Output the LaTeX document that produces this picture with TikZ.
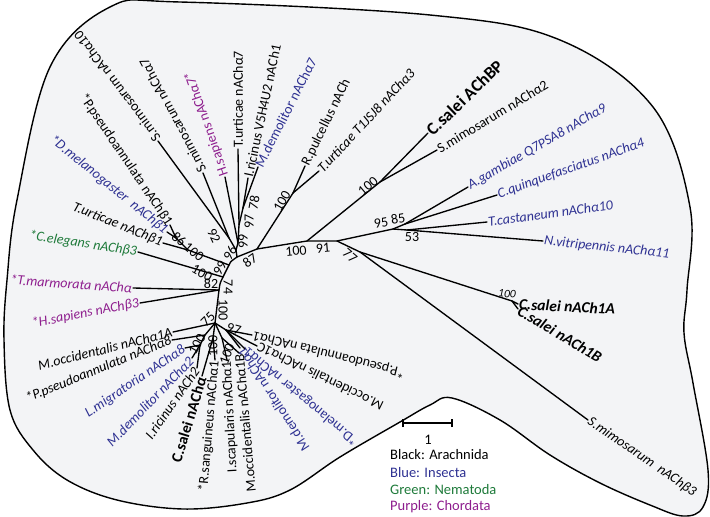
\documentclass[tikz,border=0pt]{standalone}
\usepackage{fontspec}
\setmainfont{Carlito}
\definecolor{insb}{HTML}{2E3192}
\definecolor{nemg}{HTML}{1E7A3A}
\definecolor{chrp}{HTML}{8E1E8E}
\definecolor{bgfill}{HTML}{F3F4F6}
\newcommand{\mkleaf}[6]{\coordinate (#1) at (#2); \node[#5,rotate=#3,anchor=#4] (#1t) at (#1) {#6};}
\newcommand{\bsv}[4]{\node[bs,rotate=#3] (#1) at (#2) {#4};}
\begin{document}
\begin{tikzpicture}[x=1pt,y=-1pt,
  up/.style={font=\fontsize{14}{16}\selectfont, inner sep=1pt},
  itl/.style={font=\fontsize{14}{16}\selectfont\itshape, inner sep=1pt},
  bup/.style={font=\fontsize{15.5}{17}\selectfont\bfseries, inner sep=1pt},
  bbig/.style={font=\fontsize{17.5}{19}\selectfont\bfseries, inner sep=1pt},
  bit/.style={font=\fontsize{15.5}{17}\selectfont\bfseries\itshape, inner sep=1pt},
  bs/.style={font=\fontsize{14}{15}\selectfont, inner sep=0pt},
  br/.style={line width=1.35pt, line cap=round},
  legend/.style={font=\fontsize{14.5}{16}\selectfont, anchor=west, inner sep=0pt}]
\useasboundingbox (0,0) rectangle (710,517);
% background blob
\draw[line width=1.4pt, fill=bgfill] plot[smooth cycle, tension=0.6] coordinates {
 (17,200) (50,67) (110,7) (180,2) (430,15) (560,40) (653,107) (690,207)
 (687,290) (684,333) (693,383) (708,470) (703,507) (683,516) (650,505)
 (600,483) (550,455) (500,420) (452,398) (430,405) (400,422) (340,457)
 (290,490) (247,503) (183,509) (117,500) (67,480) (33,450) (10,410)
 (4,340) (7,280)};
% internal nodes
\coordinate (n87) at (257,249);
\coordinate (nA) at (237,257);
\coordinate (nR) at (293,193);
\coordinate (nM) at (307,241);
\coordinate (nBP) at (380,182);
\coordinate (n91) at (337,241);
\coordinate (n95) at (393,229);
\coordinate (n85) at (405,224);
\coordinate (n53) at (407,230);
\coordinate (n77) at (360,252);
\coordinate (nC1) at (512,301);
\coordinate (n96) at (236,250);
\coordinate (n92) at (229,238);
\coordinate (n99) at (238,243);
\coordinate (n97) at (239,225);
\coordinate (n78) at (243,208);
\coordinate (nS1) at (229,265);
\coordinate (nS2) at (223,277);
\coordinate (n82) at (219,290);
\coordinate (n75) at (215,323);
\coordinate (n100L) at (188,250);
\coordinate (n86) at (176,238);
\coordinate (nL) at (205,335);
\coordinate (nL2) at (200,345);
\coordinate (nMid) at (213,338);
\coordinate (nD) at (222,338);
\coordinate (nE) at (226,330);
% leaves
\mkleaf{smA10}{158,141}{127}{west}{up}{S.mimosarum nAChα10}
\mkleaf{smA7}{203,173}{118}{west}{up}{S.mimosarum nAChα7}
\mkleaf{hsA7}{225,177}{109}{west}{up,text=chrp}{H.sapiens nAChα7*}
\mkleaf{tuA7}{238,149}{90}{west}{up}{T.urticae nAChα7}
\mkleaf{irV5}{248,178}{78}{west}{up}{I.ricinus V5H4U2 nACh1}
\mkleaf{mdA7}{258,167}{63}{west}{up,text=insb}{M.demolitor nAChα7}
\mkleaf{rp}{305,166}{64}{west}{up}{R.pulcellus nACh}
\mkleaf{tuA3}{319,171}{47}{west}{itl}{T.urticae T1JSJ8 nAChα3}
\mkleaf{csBP}{428,133}{44}{west}{bbig}{C.salei AChBP}
\mkleaf{smA2}{437,150}{31}{west}{up}{S.mimosarum nAChα2}
\mkleaf{agA9}{468,187}{30}{west}{itl,text=insb}{A.gambiae Q7PSA8 nAChα9}
\mkleaf{cqA4}{497,195}{19.6}{west}{itl,text=insb}{C.quinquefasciatus nAChα4}
\mkleaf{tcA10}{487,222}{8}{west}{itl,text=insb}{T.castaneum nAChα10}
\mkleaf{nvA11}{543,241}{-6}{west}{itl,text=insb}{N.vitripennis nAChα11}
\mkleaf{csA1}{518,304}{-3}{west}{bit}{C.salei nACh1A}
\mkleaf{csB1}{518,309}{-31}{west}{bit}{C.salei nACh1B}
\mkleaf{smB3}{588,420}{-34.5}{west}{itl}{S.mimosarum\ \ nAChβ3}
\mkleaf{ppA1}{252,335}{166}{east}{up}{*P.pseudoannulata nAChα1}
\mkleaf{moA1C}{257,346}{154}{east}{up}{M.occidentalis nAChα1C}
\mkleaf{dmA1}{245,349}{140}{east}{up,text=insb}{*D.melanogaster nAChα1}
\mkleaf{mdA1}{240,348}{123}{east}{up,text=insb}{M.demolitor nAChα1}
\mkleaf{moA1B}{239,353}{95}{east}{up}{M.occidentalis nAChα1B}
\mkleaf{isA1}{227,360}{93}{east}{up}{I.scapularis nAChα1}
\mkleaf{rsA1}{215,360}{85}{east}{up}{*R.sanguineus nAChα1}
\mkleaf{csA}{202,376}{73}{east}{bup}{C.salei nAChα}
\mkleaf{irN2}{197,368}{55}{east}{itl}{I.ricinus nACh2}
\mkleaf{mdA2}{192,358}{46}{east}{itl,text=insb}{M.demolitor nAChα2}
\mkleaf{lmA8}{185,348}{34}{east}{itl,text=insb}{L.migratoria nAChα8}
\mkleaf{ppA8}{172,340}{22}{east}{itl}{*P.pseudoannulata nAChα8}
\mkleaf{moA1A}{173,332}{14}{east}{itl}{M.occidentalis nAChα1A}
\mkleaf{hsB3}{140,303}{11}{east}{itl,text=chrp}{*H.sapiens nAChβ3}
\mkleaf{tmA}{133,288}{-4}{east}{itl,text=chrp}{*T.marmorata nAChα}
\mkleaf{ceB3}{138,252}{-8.5}{east}{itl,text=nemg}{*C.elegans nAChβ3}
\mkleaf{tuB1}{163,243}{-22}{east}{itl}{T.urticae nAChβ1}
\mkleaf{dmB1}{167,232}{-39}{east}{itl,text=insb}{*D.melanogaster\ \ nAChβ1}
\mkleaf{ppB1}{170,225}{-56}{east}{up}{*P.pseudoannulata nAChβ1}
% branches
\draw[br] (nA) -- (n87) -- (nR); \draw[br] (n87) -- (nM) -- (n91) -- (n95) -- (n85);
\draw[br] (nM) -- (nBP); \draw[br] (n95) -- (n53); \draw[br] (n91) -- (n77) -- (nC1);
\draw[br] (n77) -- (smB3); \draw[br] (nC1) -- (csA1); \draw[br] (nC1) -- (csB1);
\draw[br] (n85) -- (agA9); \draw[br] (n85) -- (cqA4); \draw[br] (n53) -- (tcA10); \draw[br] (n53) -- (nvA11);
\draw[br] (nBP) -- (csBP); \draw[br] (nBP) -- (smA2); \draw[br] (nR) -- (rp); \draw[br] (nR) -- (tuA3);
\draw[br] (nA) -- (n96) -- (n99) -- (n97) -- (n78); \draw[br] (n96) -- (n92);
\draw[br] (n92) -- (smA10); \draw[br] (n92) -- (smA7); \draw[br] (n99) -- (hsA7);
\draw[br] (n97) -- (tuA7); \draw[br] (n78) -- (irV5); \draw[br] (n78) -- (mdA7);
\draw[br] (nA) .. controls (230,262) .. (nS1) -- (nS2) .. controls (220,283) .. (n82) -- (n75);
\draw[br] (nS1) -- (n100L) -- (n86); \draw[br] (n86) -- (ppB1); \draw[br] (n86) -- (dmB1); \draw[br] (n100L) -- (tuB1);
\draw[br] (nS2) -- (ceB3); \draw[br] (n82) -- (tmA); \draw[br] (n82) -- (hsB3);
\draw[br] (n75) -- (moA1A); \draw[br] (n75) -- (nL) -- (nL2); \draw[br] (nL) -- (ppA8); \draw[br] (nL2) -- (lmA8);
\draw[br] (nL2) -- (mdA2); \draw[br] (nL2) -- (irN2);
\draw[br] (n75) -- (nMid); \draw[br] (nMid) -- (csA); \draw[br] (nMid) -- (rsA1);
\draw[br] (n75) -- (nD); \draw[br] (nD) -- (isA1); \draw[br] (nD) -- (moA1B);
\draw[br] (n75) -- (nE); \draw[br] (nE) -- (mdA1); \draw[br] (nE) -- (dmA1); \draw[br] (nE) -- (moA1C); \draw[br] (nE) -- (ppA1);
% bootstrap values
\bsv{b1}{282,201}{60}{100}
\bsv{b2}{368,186}{40}{100}
\bsv{b3}{296,251}{5}{100}
\bsv{b4}{323,248}{5}{91}
\bsv{b5}{381,223}{10}{95}
\bsv{b6}{398,219}{10}{85}
\bsv{b7}{412,237}{0}{53}
\bsv{b8}{350,256}{-40}{77}
\node[bs,font=\fontsize{11.5}{12}\selectfont\itshape,rotate=-5] (b9) at (507,294) {100};
\bsv{b10}{250,261}{35}{87}
\bsv{b11}{243,241}{90}{99}
\bsv{b12}{249,221}{90}{97}
\bsv{b13}{254,203}{80}{78}
\bsv{b14}{214,236}{-65}{92}
\bsv{b15}{230,253}{60}{96}
\bsv{b16}{220,268}{60}{99}
\bsv{b17}{179,239}{-40}{86}
\bsv{b18}{194,252}{-40}{100}
\bsv{b19}{202,273}{-30}{100}
\bsv{b20}{211,284}{0}{82}
\bsv{b21}{228,287}{-90}{74}
\bsv{b22}{223,310}{-90}{100}
\bsv{b23}{208,319}{45}{75}
\bsv{b24}{197,344}{60}{100}
\bsv{b25}{213,346}{90}{100}
\bsv{b26}{227,354}{70}{100}
\bsv{b27}{234,329}{-15}{97}
% scale bar
\coordinate (sb1) at (403,423); \coordinate (sb2) at (452,423);
\draw[line width=1.4pt] (sb1) -- (sb2);
\draw[line width=1.4pt] ([yshift=-4pt]sb1) -- ([yshift=4pt]sb1);
\draw[line width=1.4pt] ([yshift=-4pt]sb2) -- ([yshift=4pt]sb2);
\node[bs,font=\fontsize{14.5}{15}\selectfont] (sbl) at (428,440) {1};
% legend
\node[legend] (lg1) at (390,455) {Black: Arachnida};
\node[legend,text=insb] (lg2) at (390,473) {Blue: Insecta};
\node[legend,text=nemg] (lg3) at (390,490) {Green: Nematoda};
\node[legend,text=chrp] (lg4) at (390,507) {Purple: Chordata};
\end{tikzpicture}
\end{document}
